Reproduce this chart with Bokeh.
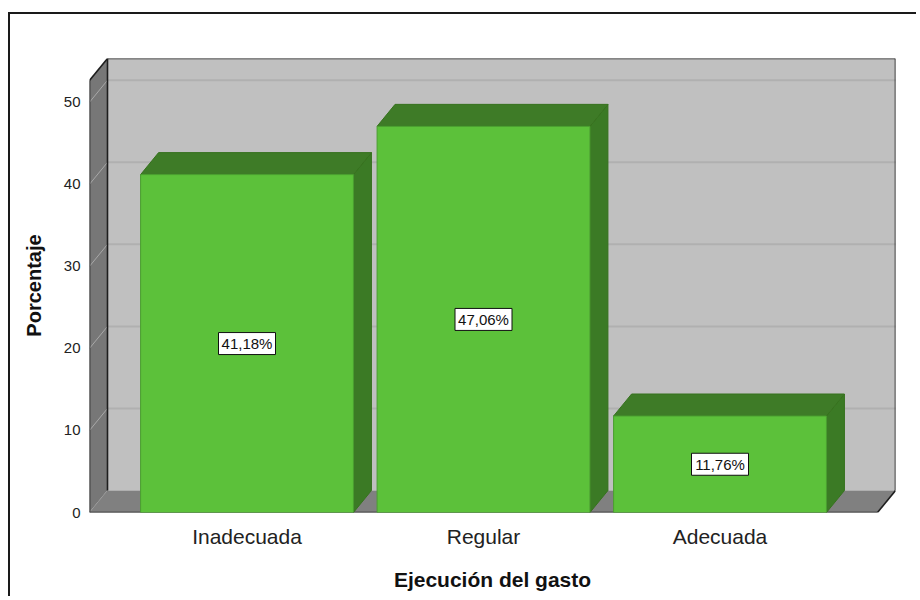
from bokeh.plotting import figure
from bokeh.models import Range1d, FixedTicker
from bokeh.core.properties import value
from bokeh.embed import file_html
from bokeh.resources import INLINE

# ---- data ----
categories = ["Inadecuada", "Regular", "Adecuada"]
percentages = [41.18, 47.06, 11.76]
y_ticks = [0, 10, 20, 30, 40, 50]
x_title = "Ejecución del gasto"
y_title = "Porcentaje"

# ---- geometry (data units) ----
Y_MAX = 52.65        # front top of the axis wall
DY = 2.68            # 3D depth in y units
DX = 0.0761          # 3D depth in x units
X0 = -0.666          # front-left of floor
X1 = 2.742           # back-right of wall
HALF = 0.45          # half bar width

FONT = "Liberation Sans"

p = figure(width=908, height=584, output_backend="svg", toolbar_location=None,
           x_range=Range1d(X0, X1), y_range=Range1d(0, Y_MAX + DY),
           min_border_left=79, min_border_right=23, min_border_top=44,
           min_border_bottom=86)
p.styles = {"border-top": "2px solid #1a1a1a", "border-left": "2px solid #1a1a1a",
            "margin-top": "12px", "margin-left": "8px"}
p.background_fill_color = "white"
p.border_fill_color = "white"
p.outline_line_color = None
p.xgrid.visible = False
p.ygrid.visible = False

# back wall
p.quad(left=[X0 + DX], right=[X1], bottom=[DY], top=[Y_MAX + DY],
       fill_color="#c0c0c0", line_color=None)
# back wall gridlines
gt = [t for t in y_ticks if t > 0]
p.segment(x0=[X0 + DX] * len(gt), x1=[X1] * len(gt),
          y0=[t + DY for t in gt], y1=[t + DY for t in gt],
          line_color="#b0b0b0", line_width=2)
# side wall
p.patch(x=[X0, X0 + DX, X0 + DX, X0], y=[0, DY, Y_MAX + DY, Y_MAX],
        fill_color="#777777", line_color=None)
p.segment(x0=[X0] * len(y_ticks), x1=[X0 + DX] * len(y_ticks),
          y0=y_ticks, y1=[t + DY for t in y_ticks],
          line_color="#a8a8a8", line_width=1)
# floor
p.patch(x=[X0, X0 + DX, X1, X1 - DX], y=[0, DY, DY, 0],
        fill_color="#808080", line_color=None)

# outlines
edge_x0 = [X0 + DX, X1, X0, X0, X0 + DX, X0, X1 - DX]
edge_y0 = [Y_MAX + DY, DY, Y_MAX, 0, DY, 0, 0]
edge_x1 = [X1, X1, X0 + DX, X0, X0 + DX, X1 - DX, X1]
edge_y1 = [Y_MAX + DY, Y_MAX + DY, Y_MAX + DY, Y_MAX, Y_MAX + DY, 0, DY]
p.segment(x0=edge_x0, y0=edge_y0, x1=edge_x1, y1=edge_y1,
          line_color="#1e1e1e", line_width=1.6)

pos = list(range(len(categories)))
# bar side faces
side_xs = [[i + HALF, i + HALF + DX, i + HALF + DX, i + HALF] for i in pos]
side_ys = [[0, DY, v + DY, v] for v in percentages]
p.patches(side_xs, side_ys, fill_color="#3b7a25", line_color="#37721f", line_width=1)
# bar top faces
top_xs = [[i - HALF, i - HALF + DX, i + HALF + DX, i + HALF] for i in pos]
top_ys = [[v, v + DY, v + DY, v] for v in percentages]
p.patches(top_xs, top_ys, fill_color="#3e7b27", line_color="#37721f", line_width=1)
# bar front faces
p.quad(left=[i - HALF for i in pos], right=[i + HALF for i in pos],
       bottom=[0] * len(pos), top=percentages,
       fill_color="#5cc13a", line_color="#4a9e30", line_width=1)

# value labels
labels = [f"{v:.2f}".replace(".", ",") + "%" for v in percentages]
mids = [v / 2 for v in percentages]
p.rect(x=pos, y=mids, width=57, height=22, width_units="screen", height_units="screen",
       fill_color="white", line_color="#111111", line_width=1)
p.text(x=pos, y=mids, text=labels, text_align="center", text_baseline="middle",
       text_font=value(FONT), text_font_size="15px", text_color="#111111")

# axes
p.xaxis.ticker = FixedTicker(ticks=pos)
p.xaxis.major_label_overrides = {i: c for i, c in zip(pos, categories)}
p.xaxis.axis_line_color = None
p.xaxis.major_tick_line_color = None
p.xaxis.minor_tick_line_color = None
p.xaxis.major_label_standoff = 6
p.xaxis.major_label_text_font = FONT
p.xaxis.major_label_text_font_size = "21px"
p.xaxis.major_label_text_color = "#222222"
p.xaxis.axis_label = x_title
p.xaxis.axis_label_text_font = FONT
p.xaxis.axis_label_text_font_style = "bold"
p.xaxis.axis_label_text_font_size = "21px"
p.xaxis.axis_label_text_color = "#111111"
p.xaxis.axis_label_standoff = 17

p.yaxis.ticker = FixedTicker(ticks=y_ticks)
p.yaxis.axis_line_color = None
p.yaxis.major_tick_line_color = None
p.yaxis.minor_tick_line_color = None
p.yaxis.major_label_standoff = 3
p.yaxis.major_label_text_font = FONT
p.yaxis.major_label_text_font_size = "15px"
p.yaxis.major_label_text_color = "#222222"
p.yaxis.axis_label = y_title
p.yaxis.axis_label_text_font = FONT
p.yaxis.axis_label_text_font_style = "bold"
p.yaxis.axis_label_text_font_size = "20px"
p.yaxis.axis_label_text_color = "#111111"
p.yaxis.axis_label_standoff = 16

open("out.html", "w").write(file_html(p, INLINE))
